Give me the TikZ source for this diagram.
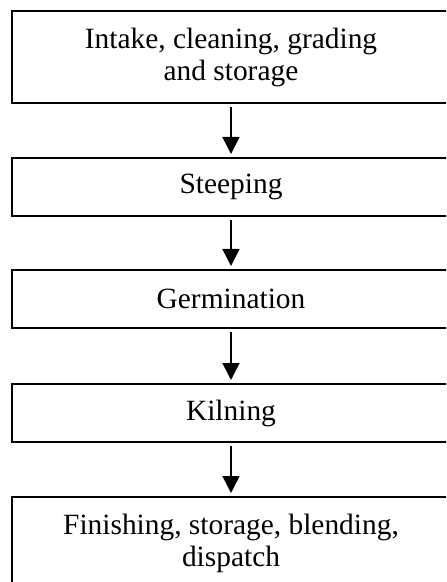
\documentclass[tikz,border=0pt]{standalone}
\usepackage{fontspec}
\setmainfont{Liberation Serif}
\usepackage{tikz}
\usetikzlibrary{arrows.meta}

\tikzset{
    stage/.style = {draw, line width = 1pt, minimum width = 219.5pt, inner sep = 0pt,
        align = center, font = \fontsize{14.7}{16}\selectfont},
    flow/.style = {line width = 0.75pt, -{Triangle[width = 8.5pt, length = 8.5pt]},
        shorten < = 1.5pt, shorten > = 1.5pt}
}

\begin{document}
\begin{tikzpicture}[x = 0.5pt, y = -0.5pt]
        \useasboundingbox (0, 0) rectangle (446, 582);
        \clip (0, 0) rectangle (446, 582);

        \node[stage, minimum height = 46pt] (intake) at (231, 57)
            {Intake, cleaning, grading\\and storage};
        \node[stage, minimum height = 29pt] (steep) at (231, 187) {Steeping};
        \node[stage, minimum height = 29pt] (germ) at (231, 299) {Germination};
        \node[stage, minimum height = 29pt] (kiln) at (231, 413) {Kilning};
        \node[stage, minimum height = 46pt] (finish) at (231, 543)
            {Finishing, storage, blending,\\dispatch};

        \draw[flow] (intake) -- (steep);
        \draw[flow] (steep) -- (germ);
        \draw[flow] (germ) -- (kiln);
        \draw[flow] (kiln) -- (finish);
    \end{tikzpicture}
\end{document}
